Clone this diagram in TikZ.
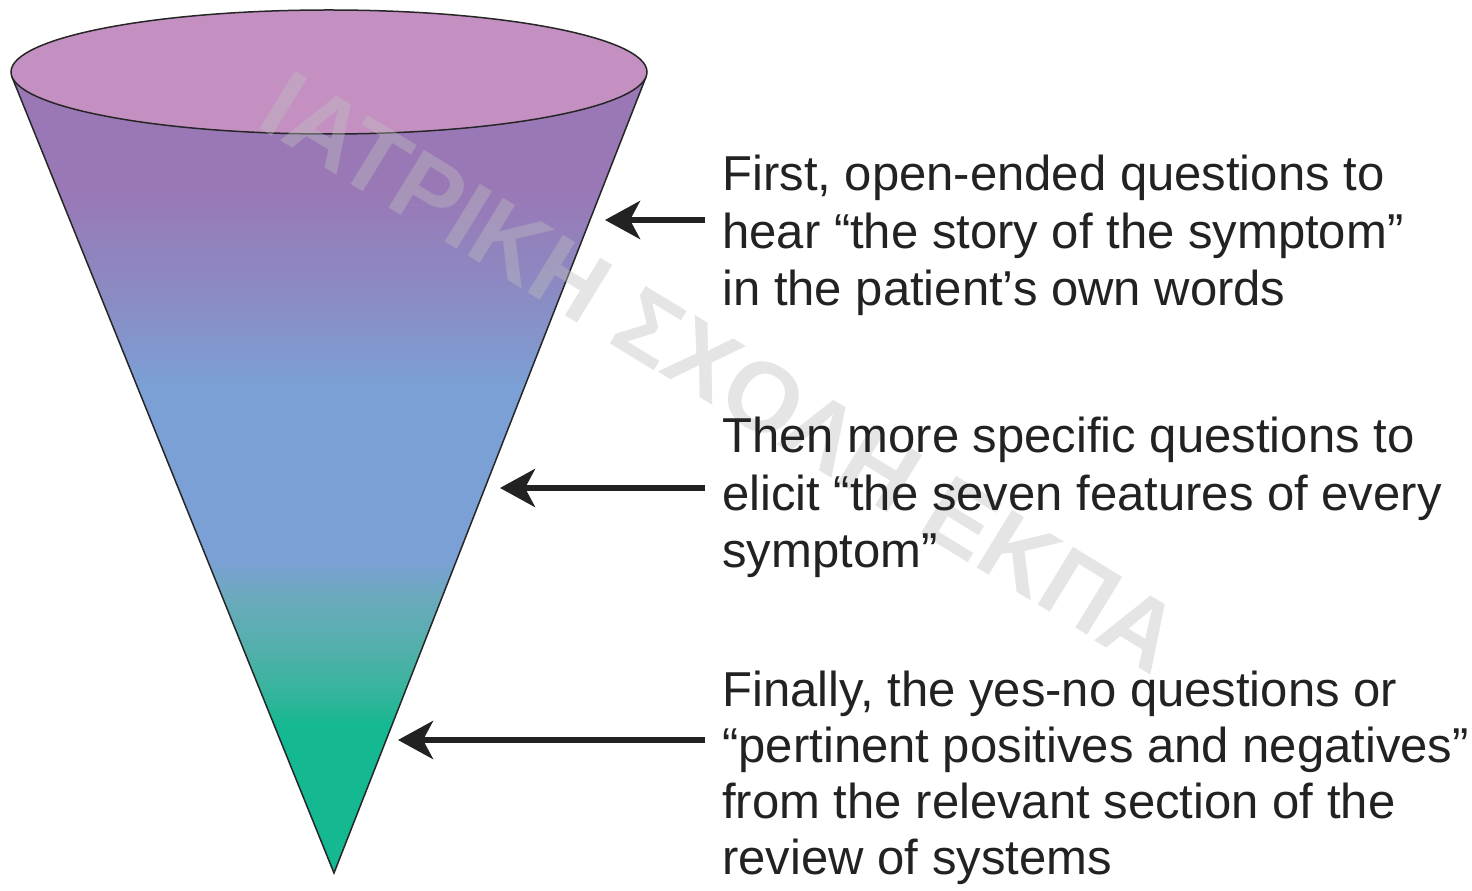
\documentclass[tikz,border=0pt]{standalone}
\usepackage{fontspec}
\setmainfont{Liberation Sans}
\usetikzlibrary{arrows.meta}

\definecolor{conetop}{HTML}{C490C2}
\definecolor{coneline}{HTML}{262626}
\definecolor{inkgray}{HTML}{222222}
\definecolor{markgray}{HTML}{BEBEBE}
\definecolor{conepurple}{HTML}{9A78B6}
\definecolor{conelilac}{HTML}{8A8CC4}
\definecolor{coneblue}{HTML}{7BA0D5}
\definecolor{coneteal}{HTML}{6AAABC}
\definecolor{conesea}{HTML}{52B0AB}
\definecolor{conejade}{HTML}{30B59A}
\definecolor{conegreen}{HTML}{14B891}

% colours of the cone, from the apex (25bp) up to the rim (75bp)
\pgfdeclareverticalshading{conefade}{100bp}{
  color(0bp)=(conegreen); color(34.3bp)=(conegreen);
  color(35.9bp)=(conejade); color(39bp)=(conesea);
  color(42.2bp)=(coneteal); color(44.7bp)=(coneblue);
  color(55.6bp)=(coneblue); color(61bp)=(conelilac);
  color(68bp)=(conepurple); color(100bp)=(conepurple)}

\tikzset{
  cone edge/.style={line width=0.03cm, draw=coneline},
  pointer/.style={line width=0.12cm, draw=inkgray,
    -{Stealth[length=0.7cm, width=0.76cm, inset=0.2cm]}},
  caption/.style={anchor=base west, align=left, inner sep=0pt, text=inkgray,
    font=\fontsize{27.9}{33}\selectfont},
  watermark/.style={text=markgray, opacity=0.4,
    font=\bfseries\fontsize{56}{64}\selectfont}
}

\begin{document}
\begin{tikzpicture}[x=0.02cm, y=-0.02cm]
    \useasboundingbox (0,0) rectangle (1472,891);

    % 1. Cone body
    \coordinate (L) at (12,77);
    \coordinate (R) at (646,77);
    \coordinate (apex) at (334,873);
    \shade[shading=conefade] (L) -- (apex) -- (R) -- cycle;
    \draw[cone edge] (L) -- (apex) -- (R);

    % 2. Rim of the cone
    \draw[cone edge, fill=conetop] (329,72) ellipse [x radius=318, y radius=62];

    % 3. Watermark
    \node[watermark, rotate=-31.5] (mark) at (722,372) {ΙΑΤΡΙΚΗ ΣΧΟΛΗ ΕΚΠΑ};

    % 4. Captions (placed at the baseline of their last line)
    \node[caption] (first) at (722,306)
        {First, open-ended questions to\\hear “the story of the symptom”\\in the patient’s own words};
    \node[caption] (then) at (722,568)
        {Then more specific questions to\\elicit “the seven features of every\\symptom”};
    \node[caption, font=\fontsize{27.9}{32}\selectfont] (finally) at (722,875)
        {Finally, the yes-no questions or\\“pertinent positives and negatives”\\from the relevant section of the\\review of systems};

    % 5. Arrows pointing at the cone
    \coordinate (s1) at (705,220);
    \coordinate (e1) at (605,220);
    \coordinate (s2) at (705,488);
    \coordinate (e2) at (500,488);
    \coordinate (s3) at (705,740);
    \coordinate (e3) at (398,740);
    \draw[pointer] (s1) -- (e1);
    \draw[pointer] (s2) -- (e2);
    \draw[pointer] (s3) -- (e3);
\end{tikzpicture}
\end{document}
